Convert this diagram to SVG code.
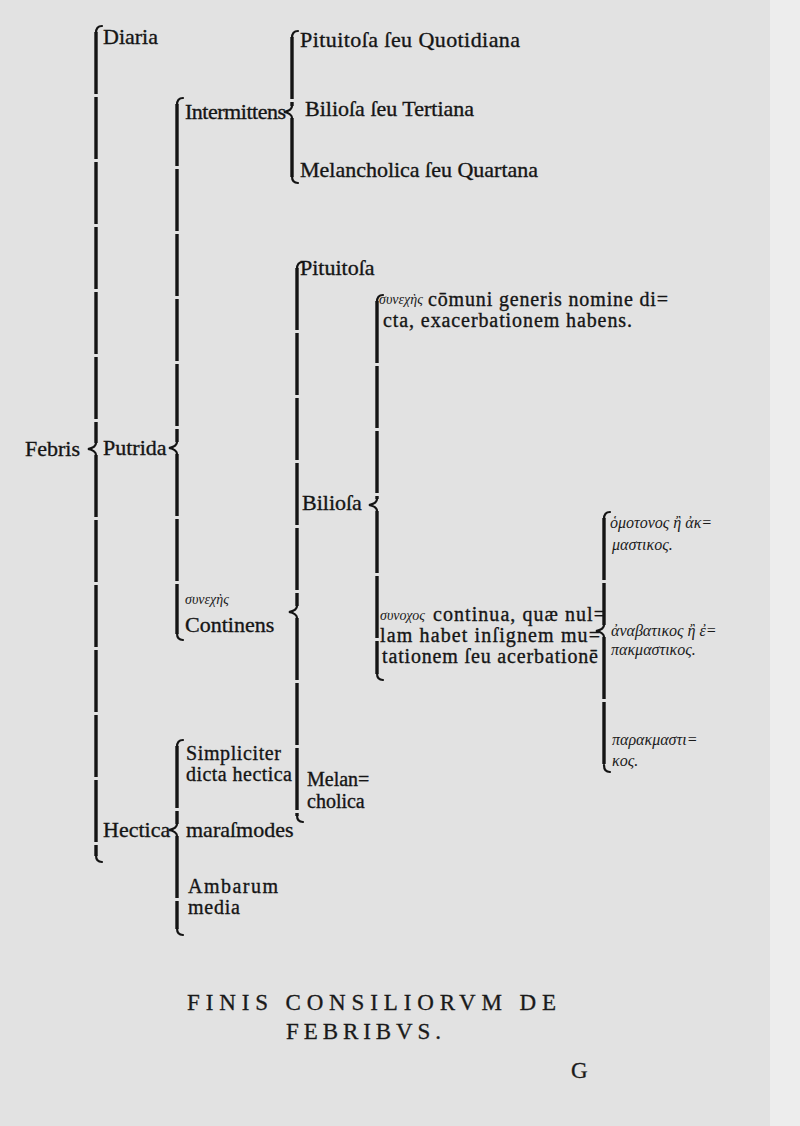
<svg xmlns="http://www.w3.org/2000/svg" width="800" height="1126" viewBox="0 0 800 1126">
<style>
.t{font-family:"Liberation Serif","DejaVu Serif",serif;font-size:22px;fill:#151515;stroke:#151515;stroke-width:0.35}
.m{font-family:"Liberation Serif","DejaVu Serif",serif;font-size:20px;fill:#151515;stroke:#151515;stroke-width:0.35}
.g{font-family:"Liberation Serif","DejaVu Serif",serif;font-style:italic;font-size:16px;fill:#1a1a1a}
.gs{font-family:"Liberation Serif","DejaVu Serif",serif;font-style:italic;font-size:14px;fill:#1a1a1a}
.cap{font-family:"Liberation Serif","DejaVu Serif",serif;font-size:23px;fill:#1a1a1a;stroke:#1a1a1a;stroke-width:0.3}
.v{stroke:#141414;stroke-width:3.4;fill:none;stroke-dasharray:62 3}
.h{stroke:#141414;stroke-width:2.2;fill:none;stroke-linecap:round}
</style>
<rect width="800" height="1126" fill="#e2e2e2"/>
<rect x="770" y="0" width="30" height="1126" fill="#ededed"/>
<g id="connectors">
  <line class="v" x1="96" y1="32" x2="96" y2="443"/>
  <line class="v" x1="96" y1="455" x2="96" y2="856"/>
  <path class="h" d="M102 26 C98 26 96 28 96 33 M96 443 C96 446 93 448 88 449 C93 450 96 452 96 455 M96 855 C96 860 98 862 102 862"/>
  <line class="v" x1="177" y1="104" x2="177" y2="442"/>
  <line class="v" x1="177" y1="454" x2="177" y2="634"/>
  <path class="h" d="M183 98 C179 98 177 100 177 105 M177 442 C177 445 174 447 169 448 C174 449 177 451 177 454 M177 633 C177 638 179 640 183 640"/>
  <line class="v" x1="292" y1="37" x2="292" y2="106"/>
  <line class="v" x1="292" y1="118" x2="292" y2="177"/>
  <path class="h" d="M298 31 C294 31 292 33 292 38 M292 106 C292 109 289 111 284 112 C289 113 292 115 292 118 M292 176 C292 181 294 183 298 183"/>
  <line class="v" x1="297" y1="268" x2="297" y2="606"/>
  <line class="v" x1="297" y1="618" x2="297" y2="816"/>
  <path class="h" d="M303 262 C299 262 297 264 297 269 M297 606 C297 609 294 611 289 612 C294 613 297 615 297 618 M297 815 C297 820 299 822 303 822"/>
  <line class="v" x1="377" y1="301" x2="377" y2="499"/>
  <line class="v" x1="377" y1="511" x2="377" y2="674"/>
  <path class="h" d="M383 295 C379 295 377 297 377 302 M377 499 C377 502 374 504 369 505 C374 506 377 508 377 511 M377 673 C377 678 379 680 383 680"/>
  <line class="v" x1="604" y1="518" x2="604" y2="625"/>
  <line class="v" x1="604" y1="637" x2="604" y2="766"/>
  <path class="h" d="M610 512 C606 512 604 514 604 519 M604 625 C604 628 601 630 596 631 C601 632 604 634 604 637 M604 765 C604 770 606 772 610 772"/>
  <line class="v" x1="177" y1="746" x2="177" y2="824"/>
  <line class="v" x1="177" y1="836" x2="177" y2="929"/>
  <path class="h" d="M183 740 C179 740 177 742 177 747 M177 824 C177 827 174 829 169 830 C174 831 177 833 177 836 M177 928 C177 933 179 935 183 935"/>
</g>
<g id="febris"><text class="t" x="25" y="456">Febris</text></g>
<g id="diaria"><text class="t" x="103" y="44">Diaria</text></g>
<g id="putrida"><text class="t" x="103" y="455">Putrida</text></g>
<g id="hectica"><text class="t" x="103" y="837">Hectica</text></g>
<g id="intermittens"><text class="t" x="185" y="119" textLength="101">Intermittens</text></g>
<g id="quotidiana"><text class="t" x="300" y="47" textLength="220">Pituitoſa ſeu Quotidiana</text></g>
<g id="tertiana"><text class="t" x="305" y="116">Bilioſa ſeu Tertiana</text></g>
<g id="quartana"><text class="t" x="300" y="177" textLength="238">Melancholica ſeu Quartana</text></g>
<g id="continens">
  <text class="gs" x="185" y="604" font-size="15.5">συνεχὴς</text>
  <text class="t" x="185" y="632">Continens</text>
</g>
<g id="pituitosa"><text class="t" x="300" y="275">Pituitoſa</text></g>
<g id="biliosa"><text class="t" x="302" y="510">Bilioſa</text></g>
<g id="melancholica">
  <text class="m" x="307" y="786">Melan=</text>
  <text class="m" x="307" y="808">cholica</text>
</g>
<g id="synechos">
  <text class="gs" x="379" y="304" font-size="13.5">συνεχὴς</text>
  <text class="m" x="428" y="306" textLength="240">cōmuni generis nomine di=</text>
  <text class="m" x="383" y="327" textLength="249">cta, exacerbationem habens.</text>
</g>
<g id="synochos">
  <text class="gs" x="380" y="620" font-size="16">συνοχος</text>
  <text class="m" x="433" y="621" textLength="172">continua, quæ nul=</text>
  <text class="m" x="380" y="642" textLength="220">lam habet inſignem mu=</text>
  <text class="m" x="382" y="663" textLength="216">tationem ſeu acerbationē</text>
</g>
<g id="homotonos">
  <text class="g" x="610" y="528">ὁμοτονος ἢ ἀκ=<tspan x="612" dy="22">μαστικος.</tspan></text>
</g>
<g id="anabatikos">
  <text class="g" x="611" y="636">ἀναβατικος ἢ ἐ=<tspan x="611" dy="19">πακμαστικος.</tspan></text>
</g>
<g id="parakmastikos">
  <text class="g" x="612" y="745">παρακμαστι=<tspan x="612" dy="21">κος.</tspan></text>
</g>
<g id="simpliciter">
  <text class="m" x="186" y="760" textLength="95">Simpliciter</text>
  <text class="m" x="186" y="781" textLength="106">dicta hectica</text>
</g>
<g id="marasmodes"><text class="t" x="186" y="837">maraſmodes</text></g>
<g id="ambarum">
  <text class="m" x="188" y="893" textLength="90">Ambarum</text>
  <text class="m" x="188" y="914" textLength="52">media</text>
</g>
<g id="footer">
  <text class="cap" x="187" y="1010" textLength="369">FINIS CONSILIORVM DE</text>
  <text class="cap" x="286" y="1039" textLength="155">FEBRIBVS.</text>
  <text class="cap" x="571" y="1078" font-size="22">G</text>
</g>
</svg>
